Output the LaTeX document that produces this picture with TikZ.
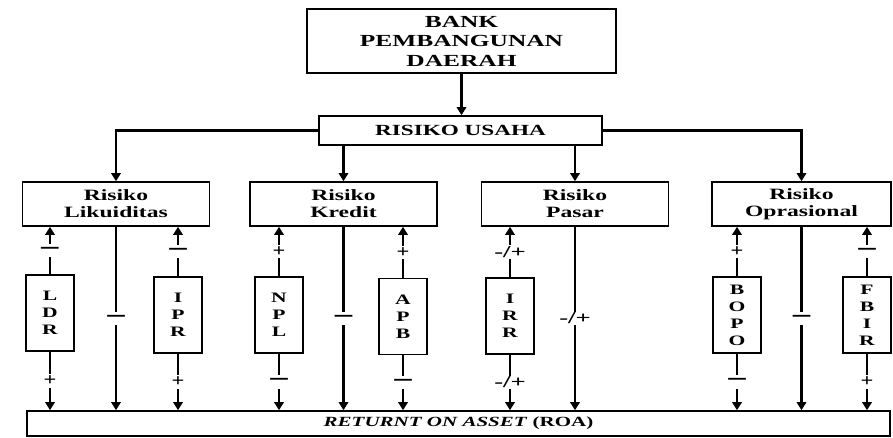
\documentclass[tikz,border=0pt]{standalone}
\usepackage{fontspec}
\setmainfont{Liberation Serif}
\usetikzlibrary{arrows.meta}
\newcommand\wide[1]{\scalebox{1.5}[1]{#1}}
\newcommand\mns{\scalebox{1.05}[1.6]{\textemdash}}
\newcommand\pls{\scalebox{1.35}[1.05]{+}}
\newcommand\mnp{\scalebox{1.6}[1]{-/+}}

\begin{document}
\begin{tikzpicture}[x=0.75pt,y=-0.75pt,
    box/.style={draw,line width=1.2pt,align=center,inner sep=0pt},
    risk/.style={box,minimum width=140pt,minimum height=33pt,font=\bfseries\fontsize{11.8}{12.75}\selectfont},
    ratio/.style={box,minimum width=36pt,minimum height=57pt,font=\bfseries\fontsize{10.8}{12.8}\selectfont},
    arr/.style={line width=1.9pt,-{Triangle[width=7pt,length=6pt]}},
    sign/.style={fill=white,inner sep=1pt,minimum height=10pt,font=\bfseries\fontsize{12.5}{12.5}\selectfont}]
    \useasboundingbox (0,0) rectangle (893,437);
    \node[box,line width=0.8pt,minimum width=231.75pt,minimum height=48pt,font=\bfseries\fontsize{12.7}{14.6}\selectfont] (bank) at (461.5,41) {\wide{BANK}\\\wide{PEMBANGUNAN}\\\wide{DAERAH}};
    \node[box,minimum width=212.25pt,minimum height=21.75pt,font=\bfseries\fontsize{11.6}{13}\selectfont] (usaha) at (460.5,130.5) {\wide{RISIKO USAHA}};
    \node[risk] (lik) at (116,204) {\wide{Risiko}\\\wide{Likuiditas}};
    \node[risk] (kre) at (343.5,204) {\wide{Risiko}\\\wide{Kredit}};
    \node[risk] (pas) at (575,204) {\wide{Risiko}\\\wide{Pasar}};
    \node[risk,minimum width=134pt] (opr) at (801.5,204) {\wide{Risiko}\\\wide{Oprasional}};
    \node[box,minimum width=647.25pt,minimum height=18.75pt,font=\bfseries\fontsize{10.5}{12}\selectfont] (roa) at (458.5,423.5) {\wide{\textit{RETURNT ON ASSET} (ROA)}};
    \node[ratio] (ldr) at (50,313) {\wide{L}\\\wide{D}\\\wide{R}};
    \node[ratio] (ipr) at (178,315) {\wide{I}\\\wide{P}\\\wide{R}};
    \node[ratio] (npl) at (279,315) {\wide{N}\\\wide{P}\\\wide{L}};
    \node[ratio] (apb) at (403,316.5) {\wide{A}\\\wide{P}\\\wide{B}};
    \node[ratio] (irr) at (510,316) {\wide{I}\\\wide{R}\\\wide{R}};
    \node[ratio] (bopo) at (737,315) {\wide{B}\\\wide{O}\\\wide{P}\\\wide{O}};
    \node[ratio] (fbir) at (867,315) {\wide{F}\\\wide{B}\\\wide{I}\\\wide{R}};
    % bank to risiko usaha
    \draw[arr] (bank.south) -- (bank.south |- usaha.north);
    \draw[arr] (usaha.west) -| (lik.north);
    \draw[arr] (usaha.east) -| (opr.north);
    \draw[arr] (usaha.south -| kre.north) -- (kre.north);
    \draw[arr] (usaha.south -| pas.north) -- (pas.north);
    % likuiditas
    \draw[arr] (ldr.north) -- node[sign]{\mns} (ldr.north |- lik.south);
    \draw[arr] (ldr.south) -- node[sign]{\pls} (ldr.south |- roa.north);
    \draw[arr] (lik.south) -- node[sign]{\mns} (lik.south |- roa.north);
    \draw[arr] (ipr.north) -- node[sign]{\mns} (ipr.north |- lik.south);
    \draw[arr] (ipr.south) -- node[sign]{\pls} (ipr.south |- roa.north);
    % kredit
    \draw[arr] (npl.north) -- node[sign]{\pls} (npl.north |- kre.south);
    \draw[arr] (npl.south) -- node[sign]{\mns} (npl.south |- roa.north);
    \draw[arr] (kre.south) -- node[sign]{\mns} (kre.south |- roa.north);
    \draw[arr] (apb.north) -- node[sign]{\pls} (apb.north |- kre.south);
    \draw[arr] (apb.south) -- node[sign]{\mns} (apb.south |- roa.north);
    % pasar
    \draw[arr] (irr.north) -- node[sign]{\mnp} (irr.north |- pas.south);
    \draw[arr] (irr.south) -- node[sign]{\mnp} (irr.south |- roa.north);
    \draw[arr] (pas.south) -- node[sign]{\mnp} (pas.south |- roa.north);
    % oprasional
    \draw[arr] (bopo.north) -- node[sign]{\pls} (bopo.north |- opr.south);
    \draw[arr] (bopo.south) -- node[sign]{\mns} (bopo.south |- roa.north);
    \draw[arr] (opr.south) -- node[sign]{\mns} (opr.south |- roa.north);
    \draw[arr] (fbir.north) -- node[sign]{\mns} (fbir.north |- opr.south);
    \draw[arr] (fbir.south) -- node[sign]{\pls} (fbir.south |- roa.north);
\end{tikzpicture}
\end{document}
